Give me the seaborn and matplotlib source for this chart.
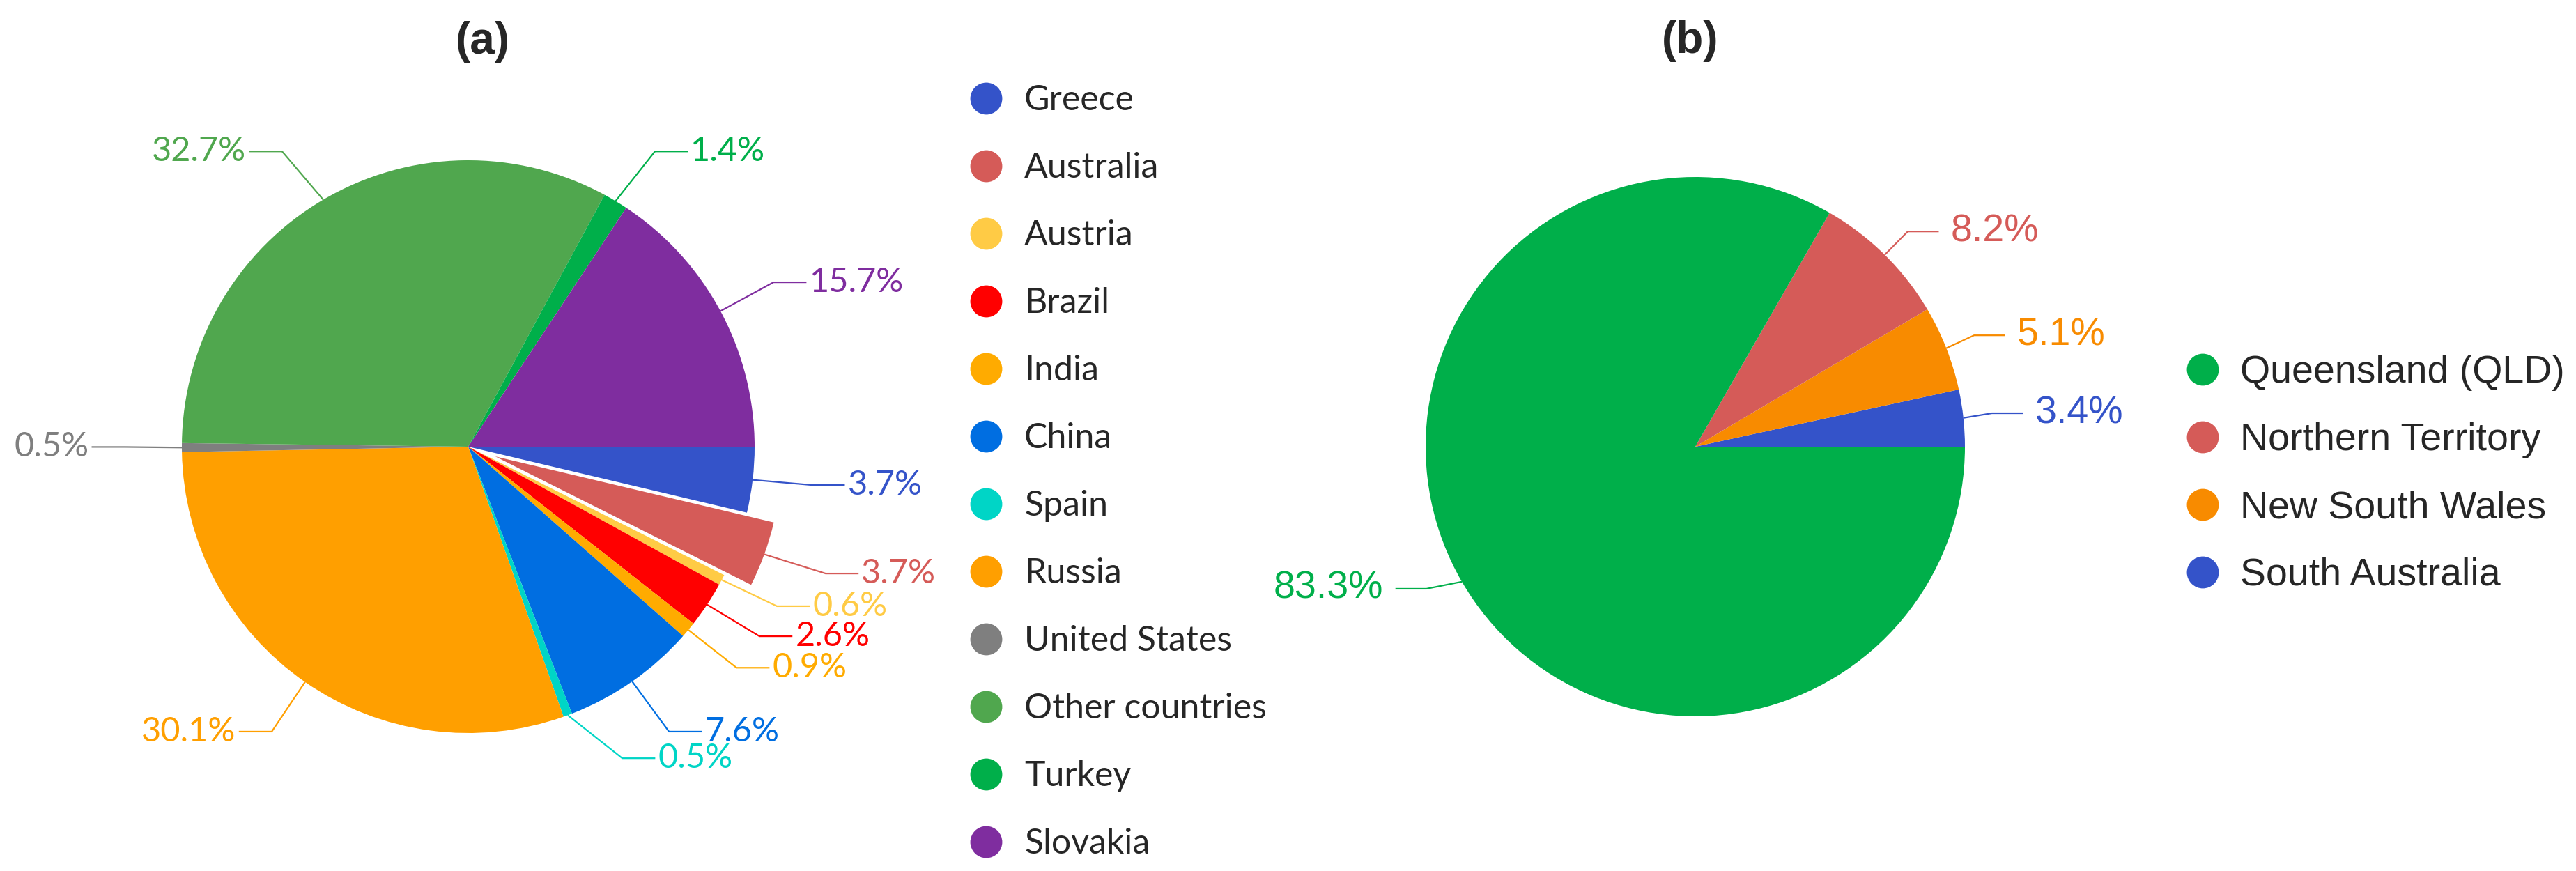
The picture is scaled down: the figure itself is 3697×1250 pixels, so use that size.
import numpy as np
import matplotlib.pyplot as plt
from matplotlib.lines import Line2D
import seaborn as sns

# (a) share of studies by country, clockwise from 3 o'clock
countries = ['Greece', 'Australia', 'Austria', 'Brazil', 'India', 'China',
             'Spain', 'Russia', 'United States', 'Other countries', 'Turkey', 'Slovakia']
country_share = [3.7, 3.7, 0.6, 2.6, 0.9, 7.6, 0.5, 30.1, 0.5, 32.7, 1.4, 15.7]
country_colors = ['#3453C9', '#D55B58', '#FFCB45', '#FF0000', '#FFAB00', '#006EE1',
                  '#00D5C6', '#FF9F00', '#7F7F7F', '#50A74E', '#00AF4A', '#7F2D9F']
country_explode = [0, 0.1, 0, 0, 0, 0, 0, 0, 0, 0, 0, 0]

# (b) Australian states, counter-clockwise from 3 o'clock
states = ['South Australia', 'New South Wales', 'Northern Territory', 'Queensland (QLD)']
state_share = [3.4, 5.1, 8.2, 83.3]
state_colors = ['#3453C9', '#F88B00', '#D55B58', '#00AF4A']
state_legend_order = [3, 2, 1, 0]

# label elbows (pie-radius units) - layout only
elbows_a = [(1.20, -0.134), (1.248, -0.443), (1.078, -0.557), (1.017, -0.662),
            (0.937, -0.772), (0.701, -0.995), (0.538, -1.088), (-0.686, -0.995),
            (-1.20, -0.001), (-0.650, 1.031), (0.652, 1.031), (1.066, 0.574)]
elbows_b = [(1.10, 0.124), (1.034, 0.413), (0.788, 0.798), (-0.997, -0.527)]

W, H = 3697, 1250
sns.set_style('white')
plt.rcParams['font.family'] = ['Lato', 'DejaVu Sans']

fig = plt.figure(figsize=(W / 100, H / 100), dpi=100)


def pie_axes(cx, cy, r):
    # axes spanning the whole figure, 1 data unit = r pixels, pie centre at (cx, cy) px from top-left
    ax = fig.add_axes([0, 0, 1, 1])
    ax.patch.set_alpha(0)
    return ax, (-cx / r, (W - cx) / r), ((cy - H) / r, cy / r)


def leader_labels(ax, wedges, values, elbows, run, gap, font, size):
    for w, v, (ex, ey) in zip(wedges, values, elbows):
        ang = np.deg2rad((w.theta1 + w.theta2) / 2)
        x0 = w.center[0] + w.r * np.cos(ang)
        y0 = w.center[1] + w.r * np.sin(ang)
        side = 1 if ex > 0 else -1
        c = w.get_facecolor()
        ax.plot([x0, ex, ex + side * run], [y0, ey, ey], color=c, lw=1.6, solid_capstyle='butt')
        ax.text(ex + side * gap, ey, f'{v:.1f}%', color=c, ha='left' if side > 0 else 'right',
                va='center', fontsize=size, family=font)


# ---- (a) ----
ax1, xl, yl = pie_axes(672, 641, 411)
wedges_a, _ = ax1.pie(country_share, colors=country_colors, explode=country_explode,
                      startangle=0, counterclock=False, radius=1,
                      wedgeprops={'linewidth': 0})
ax1.set_xlim(xl)
ax1.set_ylim(yl)
ax1.set_aspect('equal')
ax1.axis('off')
leader_labels(ax1, wedges_a, country_share, elbows_a, 0.115, 0.125,
              ['Lato', 'DejaVu Sans'], 35)
ax1.text(0.05, 1.414, '(a)', ha='center', va='center', fontsize=46,
         fontweight='bold', family=['Liberation Sans', 'DejaVu Sans'])

handles_a = [Line2D([], [], ls='', marker='o', markersize=33, markerfacecolor=c,
                    markeredgewidth=0) for c in country_colors]
ax1.legend(handles_a, countries, loc='upper left', bbox_to_anchor=(1390 / W, 1 - 121 / H),
           bbox_transform=fig.transFigure, frameon=False,
           prop={'family': ['Lato', 'DejaVu Sans'], 'size': 36},
           handlelength=1.0, handletextpad=0.6, labelspacing=1.02,
           borderpad=0, borderaxespad=0)

# ---- (b) ----
ax2, xl, yl = pie_axes(2433, 641, 387)
wedges_b, _ = ax2.pie(state_share, colors=state_colors, startangle=0,
                      counterclock=True, radius=1, wedgeprops={'linewidth': 0})
ax2.set_xlim(xl)
ax2.set_ylim(yl)
ax2.set_aspect('equal')
ax2.axis('off')
leader_labels(ax2, wedges_b, state_share, elbows_b, 0.115, 0.16,
              ['Liberation Sans', 'DejaVu Sans'], 40)
ax2.text(-0.02, 1.504, '(b)', ha='center', va='center', fontsize=46,
         fontweight='bold', family=['Liberation Sans', 'DejaVu Sans'])

handles_b = [Line2D([], [], ls='', marker='o', markersize=33, markerfacecolor=state_colors[i],
                    markeredgewidth=0) for i in state_legend_order]
ax2.legend(handles_b, [states[i] for i in state_legend_order], loc='upper left',
           bbox_to_anchor=(3133 / W, 1 - 509 / H), bbox_transform=fig.transFigure,
           frameon=False, prop={'family': ['Liberation Sans', 'DejaVu Sans'], 'size': 40},
           handlelength=1.0, handletextpad=0.48, labelspacing=0.81,
           borderpad=0, borderaxespad=0)

fig.savefig('out.png', dpi=100, facecolor='white')
